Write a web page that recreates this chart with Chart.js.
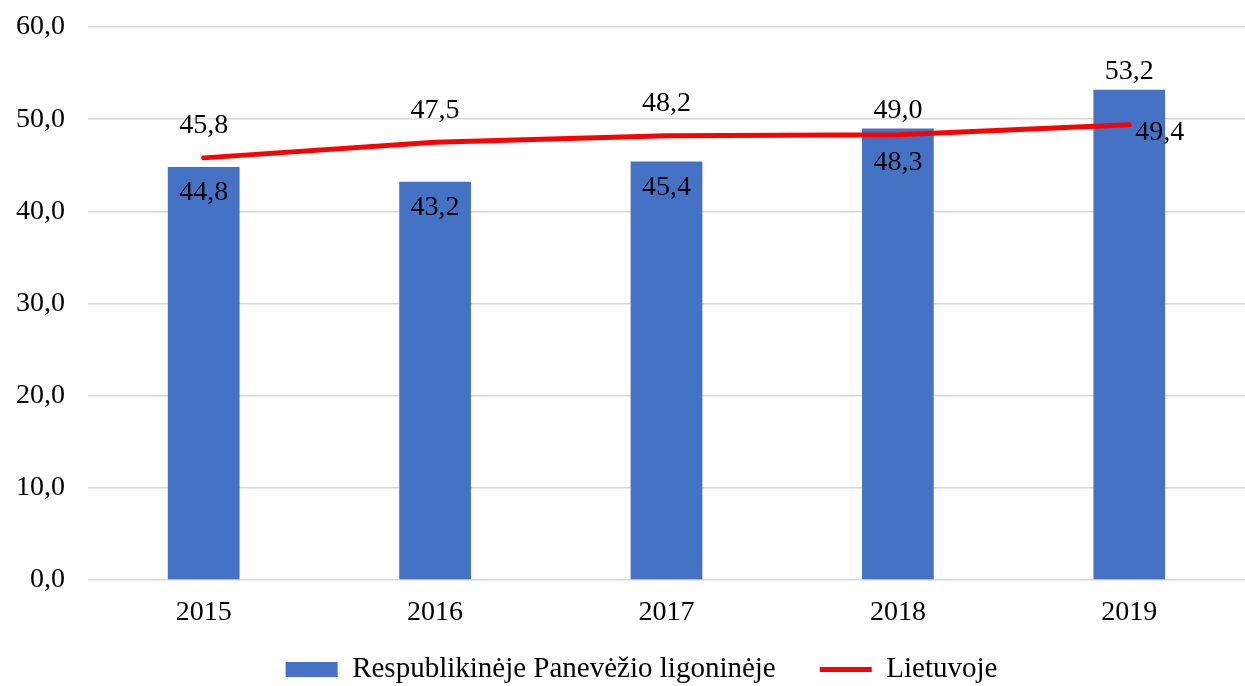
<!DOCTYPE html>
<html>
<head>
<meta charset="utf-8">
<script src="https://cdn.jsdelivr.net/npm/chart.js@4/dist/chart.umd.min.js"></script>
<style>
  html, body { margin: 0; padding: 0; background: #fff; }
  #wrap { width: 1245px; height: 686px; }
</style>
</head>
<body>
<div id="wrap"><canvas id="chart" width="1245" height="686"></canvas></div>
<script>
// duomenys
const years = ['2015', '2016', '2017', '2018', '2019'];
const hospitalValues = [44.8, 43.2, 45.4, 49.0, 53.2];
const lithuaniaValues = [45.8, 47.5, 48.2, 48.3, 49.4];
const yTicks = [0, 10, 20, 30, 40, 50, 60];

// kur dėti reikšmių etiketes
const hospitalLabelPos = ['inside', 'inside', 'inside', 'above', 'above'];
const lithuaniaLabelPos = ['above', 'above', 'above', 'below', 'right'];

const fmt = v => v.toFixed(1).replace('.', ',');
const FONT = "'Liberation Serif', 'Times New Roman', serif";

Chart.defaults.font.family = FONT;
Chart.defaults.font.size = 28;
Chart.defaults.color = '#000';

// etikečių piešimas
const valueLabels = {
    id: 'valueLabels',
    afterDatasetsDraw(chart) {
        const ctx = chart.ctx;
        ctx.save();
        ctx.font = '28px ' + FONT;
        ctx.fillStyle = '#000';
        ctx.textBaseline = 'middle';
        chart.data.datasets.forEach((ds, i) => {
            const meta = chart.getDatasetMeta(i);
            const pos = i === 0 ? hospitalLabelPos : lithuaniaLabelPos;
            meta.data.forEach((el, j) => {
                const txt = fmt(ds.data[j]);
                let x = el.x, y = el.y;
                ctx.textAlign = 'center';
                if (pos[j] === 'inside') y += 26;
                else if (pos[j] === 'above') y -= (i === 0 ? 18 : 32);
                else if (pos[j] === 'below') y += 28;
                else if (pos[j] === 'right') { ctx.textAlign = 'left'; x += 6; y += 8; }
                ctx.fillText(txt, x, y);
            });
        });
        ctx.restore();
    }
};

// legendos vieta
const legendShift = {
    id: 'legendShift',
    afterLayout(chart) {
        const lg = chart.legend;
        if (lg) {
            lg.left += 19;
            lg.right += 19;
            lg.top -= 17;
        }
    }
};

new Chart(document.getElementById('chart'), {
    data: {
        labels: years,
        datasets: [
            {
                type: 'bar',
                label: 'Respublikinėje Panevėžio ligoninėje',
                data: hospitalValues,
                backgroundColor: '#4472c4',
                barPercentage: 0.31,
                categoryPercentage: 1,
                pointStyle: 'rect',
                order: 2
            },
            {
                type: 'line',
                label: 'Lietuvoje',
                data: lithuaniaValues,
                borderColor: '#ff0000',
                backgroundColor: '#ff0000',
                borderWidth: 5,
                borderCapStyle: 'round',
                pointRadius: 0,
                pointStyle: 'line',
                tension: 0,
                order: 1
            }
        ]
    },
    options: {
        responsive: false,
        animation: false,
        layout: { padding: { top: 27, right: 0, bottom: 0, left: 0 } },
        scales: {
            x: {
                grid: { display: false },
                border: { display: false },
                ticks: { padding: 8 },
                afterFit: s => { s.height = 48; }
            },
            y: {
                min: 0,
                max: 60,
                afterBuildTicks: s => { s.ticks = yTicks.map(v => ({ value: v })); },
                afterFit: s => { s.width = 88; s.paddingTop = 0; },
                grid: { color: '#d9d9d9', lineWidth: 1.5, drawTicks: false },
                border: { display: false },
                ticks: { padding: 23, callback: v => fmt(v) }
            }
        },
        plugins: {
            legend: {
                position: 'bottom',
                maxHeight: 58,
                labels: {
                    usePointStyle: true,
                    pointStyleWidth: 52,
                    boxHeight: 15,
                    padding: 44,
                    font: { size: 29 },
                    sort: (a, b) => a.datasetIndex - b.datasetIndex
                }
            },
            tooltip: { enabled: false }
        }
    },
    plugins: [valueLabels, legendShift]
});
</script>
</body>
</html>
